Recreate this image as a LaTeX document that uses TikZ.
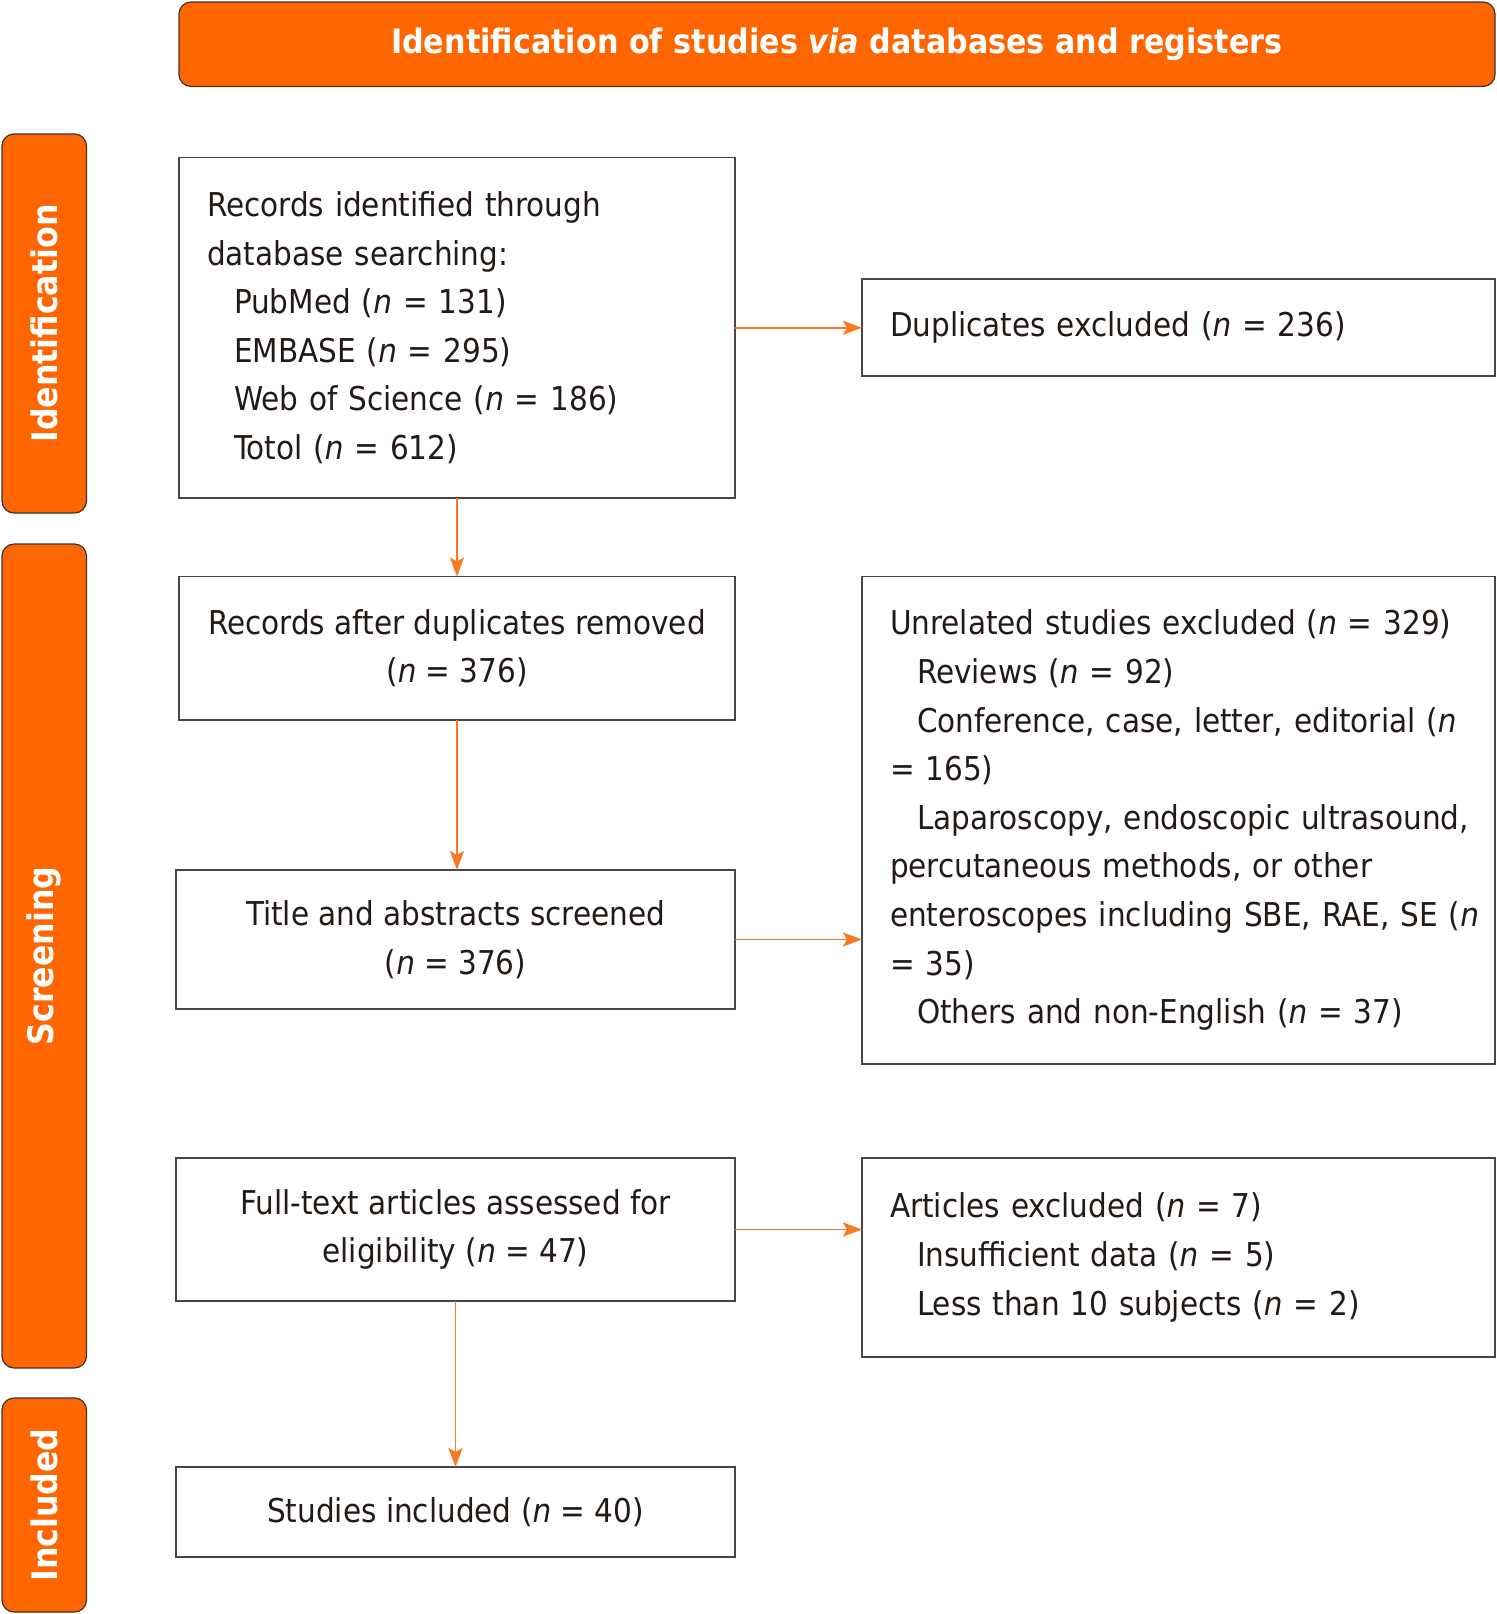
\documentclass[tikz,border=0pt]{standalone}
\usepackage{fontspec}
\setmainfont{DejaVu Sans Condensed}
\usetikzlibrary{arrows.meta,positioning}
\definecolor{prismaNaranja}{HTML}{FF6600}
\definecolor{flechaNaranja}{HTML}{F87921}
\definecolor{bordeOscuro}{HTML}{3A3330}
\definecolor{bordeCaja}{HTML}{4A4443}
\definecolor{textoCaja}{HTML}{231916}
\newcommand{\enne}{\textit{n}}

\begin{document}
\begin{tikzpicture}[x=0.5pt, y=-0.5pt,
    fase/.style={rectangle, rounded corners=6pt, draw=bordeOscuro, fill=prismaNaranja, line width=0.6pt,
                 text=white, font=\bfseries\fontsize{16.8}{20}\selectfont, inner sep=0pt, outer sep=0pt},
    lateral/.style={fase, rotate=90, minimum height=42.25pt, font=\bfseries\fontsize{17.6}{20}\selectfont},
    caja/.style={rectangle, draw=bordeCaja, line width=0.75pt, text=textoCaja,
                 font=\fontsize{16.4}{24.3}\selectfont, inner xsep=14pt, inner ysep=0pt, outer sep=0pt},
    flecha/.style={draw=flechaNaranja, line width=0.9pt, -{Stealth[length=9.5pt, width=7pt, inset=2pt]}}
  ]
  \useasboundingbox (0,0) rectangle (1497,1614);

  % fases
  \node[fase, minimum width=658pt, minimum height=42.25pt] (cabecera) at (837,44.25)
    {Identification of studies \textit{via} databases and registers};
  \node[lateral, minimum width=189.5pt] (identificacion) at (44.25,323.5) {Identification};
  \node[lateral, minimum width=412pt] (cribado) at (44.25,956) {Screening};
  \node[lateral, minimum width=107pt] (incluidos) at (44.25,1505) {Included};

  % columna izquierda
  \node[caja, align=left, text width=250pt, minimum width=278pt, minimum height=170.25pt] (registros) at (457,327.75)
    {Records identified through\\ database searching:\\
     \hspace*{13.5pt}PubMed (\enne{} = 131)\\
     \hspace*{13.5pt}EMBASE (\enne{} = 295)\\
     \hspace*{13.5pt}Web of Science (\enne{} = 186)\\
     \hspace*{13.5pt}Totol (\enne{} = 612)};
  \node[caja, align=center, minimum width=278pt, minimum height=71.75pt] (sinduplicados) at (457,648.25)
    {Records after duplicates removed\\ (\enne{} = 376)};
  \node[caja, align=center, minimum width=279.5pt, minimum height=69.5pt] (cribados) at (455.5,939.5)
    {Title and abstracts screened\\ (\enne{} = 376)};
  \node[caja, align=center, minimum width=279.5pt, minimum height=71.5pt] (textocompleto) at (455.5,1229.5)
    {Full-text articles assessed for\\ eligibility (\enne{} = 47)};
  \node[caja, align=center, minimum width=279.5pt, minimum height=45pt] (incluidosest) at (455.5,1512)
    {Studies included (\enne{} = 40)};

  % columna derecha
  \node[caja, align=left, text width=288.5pt, minimum width=316.5pt, minimum height=48.5pt] (duplicados) at (1178.5,327.5)
    {Duplicates excluded (\enne{} = 236)};
  \node[caja, align=left, text width=288.5pt, minimum width=316.5pt, minimum height=243.75pt] (norelacionados) at (1178.5,820.25)
    {\mbox{Unrelated studies excluded (\enne{} = 329)}\\
     \hspace*{13.5pt}Reviews (\enne{} = 92)\\
     \hspace*{13.5pt}\mbox{Conference, case, letter, editorial (\enne}\\
     = 165)\\
     \hspace*{13.5pt}\mbox{Laparoscopy, endoscopic ultrasound,}\\
     \mbox{percutaneous methods, or other}\\
     \mbox{enteroscopes including SBE, RAE, SE (\enne}\\
     = 35)\\
     \hspace*{13.5pt}\mbox{Others and non-English (\enne{} = 37)}};
  \node[caja, align=left, text width=288.5pt, minimum width=316.5pt, minimum height=99.5pt] (excluidos) at (1178.5,1257.5)
    {Articles excluded (\enne{} = 7)\\
     \hspace*{13.5pt}Insufficient data (\enne{} = 5)\\
     \hspace*{13.5pt}Less than 10 subjects (\enne{} = 2)};

  % flechas
  \draw[flecha] (registros.south) -- (registros.south |- sinduplicados.north);
  \draw[flecha] (sinduplicados.south) -- (sinduplicados.south |- cribados.north);
  \draw[flecha] (textocompleto.south) -- (textocompleto.south |- incluidosest.north);
  \draw[flecha] (registros.east) -- (registros.east -| duplicados.west);
  \draw[flecha] (cribados.east) -- (cribados.east -| norelacionados.west);
  \draw[flecha] (textocompleto.east) -- (textocompleto.east -| excluidos.west);
\end{tikzpicture}
\end{document}
